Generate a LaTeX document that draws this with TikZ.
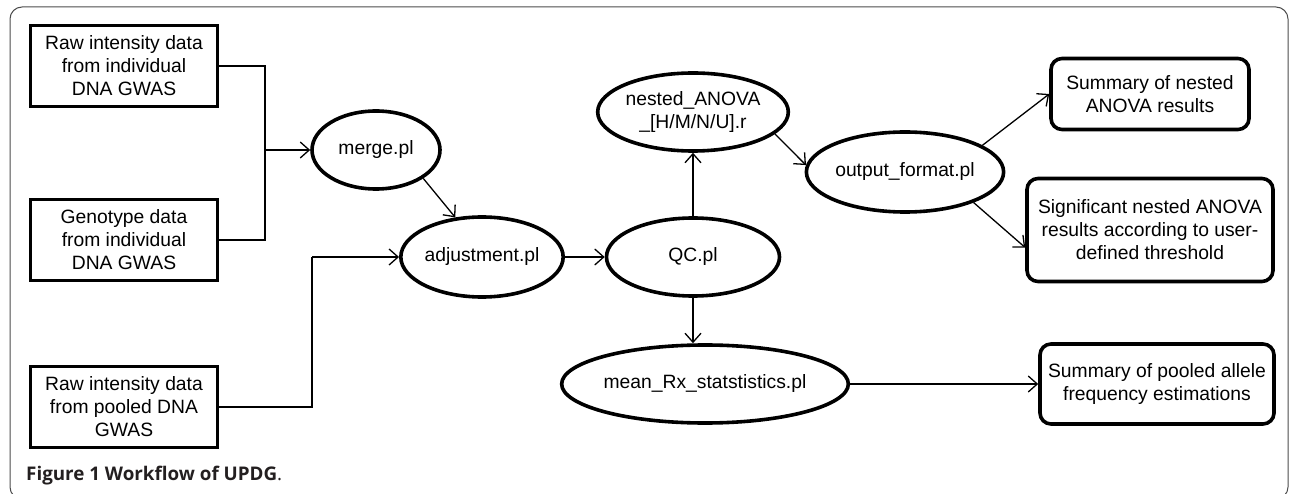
\documentclass[tikz,border=0pt]{standalone}
\usepackage{fontspec}
\setmainfont{Liberation Sans}
\newfontfamily\capfont{Open Sans}
\usetikzlibrary{shapes.geometric,arrows.meta}
\definecolor{capgray}{HTML}{231F20}
\tikzset{
  txt/.style={font=\fontsize{19.3}{23}\selectfont, align=center, inner sep=0pt},
  sqbox/.style={txt, draw, line width=3.6pt, rectangle},
  rbox/.style={txt, draw, line width=3.6pt, rectangle, rounded corners=11pt},
  oval/.style={txt, draw, line width=3.6pt, ellipse},
  conn/.style={line width=1.3pt},
  arr/.style={conn, -{Straight Barb[length=9pt,width=16pt]}},
}
\begin{document}
\begin{tikzpicture}[x=1pt,y=-1pt]
\useasboundingbox (0,0) rectangle (1290,494);
\begin{scope}
\clip (0,0) rectangle (1290,494);
\draw[line width=1pt, black!70, rounded corners=12pt] (10,7) rectangle (1288,499);
\end{scope}

% input boxes
\node[sqbox, minimum width=187pt, minimum height=81pt] (b1) at (124,66) {Raw intensity data\\from individual\\DNA GWAS};
\node[sqbox, minimum width=187pt, minimum height=81pt] (b2) at (124,240) {Genotype data\\from individual\\DNA GWAS};
\node[sqbox, minimum width=187pt, minimum height=81pt] (b3) at (124,407) {Raw intensity data\\from pooled DNA\\GWAS};

% scripts
\node[oval, minimum width=128pt, minimum height=78pt] (merge) at (376,150) {merge.pl};
\node[oval, minimum width=150pt, minimum height=80pt] (adj) at (482,257) {adjustment.pl};
\node[oval, minimum width=173pt, minimum height=78pt] (qc) at (693,257) {QC.pl};
\node[oval, minimum width=174pt, minimum height=78pt] (nested) at (693,112) {nested\_ANOVA\\\_[H/M/N/U].r};
\node[oval, minimum width=173pt, minimum height=80pt] (outfmt) at (905,172) {output\_format.pl};
\node[oval, minimum width=244pt, minimum height=78pt] (mean) at (705,384) {mean\_Rx\_statstistics.pl};

% outputs
\node[rbox, minimum width=198pt, minimum height=71pt] (s1) at (1150,94) {Summary of nested\\ANOVA results};
\node[rbox, minimum width=246pt, minimum height=103pt] (s2) at (1150,230) {Significant nested ANOVA\\results according to user-\\defined threshold};
\node[rbox, minimum width=234pt, minimum height=80pt] (s3) at (1157,384) {Summary of pooled allele\\frequency estimations};

% connectors
\coordinate (j1) at (265,150);
\coordinate (j3) at (312,257);
\draw[conn] (b1.east) -| (j1) |- (b2.east);
\draw[arr] (j1) -- (merge.west);
\draw[conn] (b3.east) -| (j3);
\draw[arr] (j3) -- (adj.west);
\draw[arr] (merge.-31) -- (adj.124);
\draw[arr] (adj.east) -- (qc.west);
\draw[arr] (qc.north) -- (nested.south);
\draw[arr] (qc.south) -- (qc.south |- mean.north);
\draw[arr] (nested.-15) -- (outfmt.176);
\draw[arr] (outfmt.19) -- (s1.west);
\draw[arr] (outfmt.-24) -- (s2.188);
\draw[arr] (mean.east) -- (s3.west);

% caption
\node[anchor=west, inner sep=0pt, text=capgray, font=\capfont\fontsize{18.8}{21}\selectfont] (cap) at (26,476) {\textbf{Figure 1 Workflow of UPDG}.};
\end{tikzpicture}
\end{document}
